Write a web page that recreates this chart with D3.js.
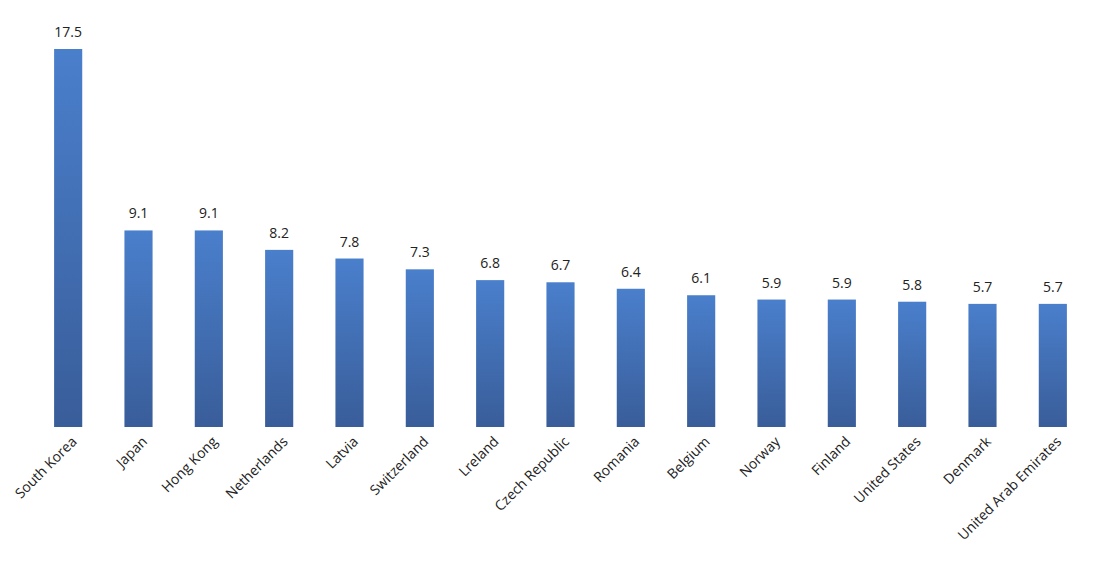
<!DOCTYPE html>
<html>
<head>
<meta charset="utf-8">
<script src="https://cdn.jsdelivr.net/npm/d3@7"></script>
<style>
  body { margin: 0; background: #fff; }
  text { font-family: "Open Sans", "DejaVu Sans", sans-serif; fill: #222; }
</style>
</head>
<body>
<div id="chart"></div>
<script>
var countries = ["South Korea", "Japan", "Hong Kong", "Netherlands", "Latvia", "Switzerland",
    "Lreland", "Czech Republic", "Romania", "Belgium", "Norway", "Finland",
    "United States", "Denmark", "United Arab Emirates"];
var values = [17.5, 9.1, 9.1, 8.2, 7.8, 7.3, 6.8, 6.7, 6.4, 6.1, 5.9, 5.9, 5.8, 5.7, 5.7];

var margin = {top: 49, right: 12, bottom: 153, left: 33},
    width = 1100 - margin.left - margin.right,
    height = 580 - margin.top - margin.bottom;

var svg = d3.select("#chart")
    .append("svg")
        .attr("width", 1100)
        .attr("height", 580)
    .append("g")
        .attr("transform", "translate(" + margin.left + "," + margin.top + ")");

var grad = svg.append("defs").append("linearGradient")
    .attr("id", "barGrad")
    .attr("x1", 0).attr("y1", 0).attr("x2", 0).attr("y2", 1);
grad.append("stop").attr("offset", "0%").attr("stop-color", "#4a7fcc");
grad.append("stop").attr("offset", "100%").attr("stop-color", "#395d99");

var x = d3.scaleBand()
    .domain(countries)
    .range([0, width])
    .paddingInner(0.6)
    .paddingOuter(0.3);

var y = d3.scaleLinear()
    .domain([0, 17.5])
    .range([height, 0]);

svg.selectAll("rect.bar")
    .data(values)
    .enter()
    .append("rect")
        .attr("class", "bar")
        .attr("x", function(d, i) { return x(countries[i]); })
        .attr("y", function(d) { return y(d); })
        .attr("width", x.bandwidth())
        .attr("height", function(d) { return height - y(d); })
        .attr("fill", "url(#barGrad)");

svg.selectAll("text.val")
    .data(values)
    .enter()
    .append("text")
        .attr("class", "val")
        .attr("x", function(d, i) { return x(countries[i]) + x.bandwidth() / 2; })
        .attr("y", function(d) { return y(d) - 12; })
        .attr("text-anchor", "middle")
        .style("font-size", "14px")
        .text(function(d) { return d.toFixed(1); });

var xAxis = svg.append("g")
    .attr("transform", "translate(0," + height + ")")
    .call(d3.axisBottom(x).tickSize(0).tickPadding(0));
xAxis.select(".domain").remove();
xAxis.selectAll("text")
    .style("font-size", "14px")
    .style("font-family", "'Open Sans', 'DejaVu Sans', sans-serif")
    .attr("fill", "#222")
    .attr("text-anchor", "end")
    .attr("dy", "0.35em")
    .attr("transform", "translate(6,12) rotate(-45)");
</script>
</body>
</html>
